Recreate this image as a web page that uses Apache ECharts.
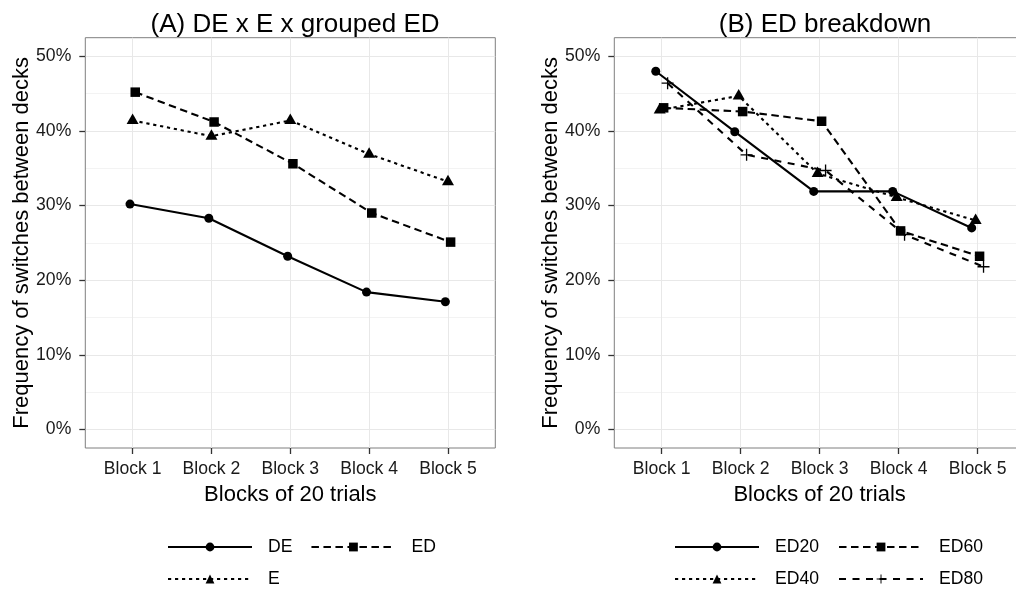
<!DOCTYPE html>
<html>
<head>
<meta charset="utf-8">
<script src="https://cdn.jsdelivr.net/npm/echarts@6/dist/echarts.min.js"></script>
<style>
  html, body { margin: 0; padding: 0; background: #fff; }
  #chart { width: 1016px; height: 591px; }
</style>
</head>
<body>
<div id="chart"></div>
<script>
// Block labels on the x axis and the percentage ticks on the y axis
const blocks = ['Block 1', 'Block 2', 'Block 3', 'Block 4', 'Block 5'];
const yTicks = [0, 10, 20, 30, 40, 50];
const yMinor = [5, 15, 25, 35, 45];

// Panel A: switch frequency (%) per block, DE / E / grouped ED
const groupsA = ['DE', 'E', 'ED'];
const valuesDE = [30.2, 28.3, 23.2, 18.4, 17.1];
const valuesE = [41.4, 39.3, 41.4, 36.9, 33.2];
const valuesED = [45.2, 41.2, 35.6, 29.0, 25.1];

// Panel B: the ED conditions broken down
const groupsB = ['ED20', 'ED40', 'ED60', 'ED80'];
const valuesED20 = [48.0, 39.9, 31.9, 31.9, 27.0];
const valuesED40 = [42.8, 44.7, 34.3, 31.1, 28.0];
const valuesED60 = [43.1, 42.6, 41.3, 26.6, 23.2];
const valuesED80 = [46.4, 36.8, 34.7, 26.1, 21.8];

const FONT = '"Liberation Sans", Arial, Helvetica, sans-serif';
const PLUS = 'path://M4.45,0H5.55V4.45H10V5.55H5.55V10H4.45V5.55H0V4.45H4.45Z';

// Marker and line pattern for each group
const looks = {
  DE:   { symbol: 'circle', size: 9, dash: 'solid' },
  E:    { symbol: 'triangle', size: [12, 10.5], dash: [3.2, 3.8], offset: [0, -1.7] },
  ED:   { symbol: 'rect', size: 9.5, dash: [7.5, 4.5] },
  ED20: { symbol: 'circle', size: 9, dash: 'solid' },
  ED40: { symbol: 'triangle', size: [12, 10.5], dash: [3.2, 3.8], offset: [0, -1.7] },
  ED60: { symbol: 'rect', size: 9.5, dash: [7.5, 4.5] },
  ED80: { symbol: PLUS, size: 12, dash: [7, 6.5] }
};

// Series dodged sideways around each block, as a grouped dot plot would
function lineSeries(name, values, idx, nGroups, dodgeWidth, axisIdx) {
  const shift = (idx - (nGroups - 1) / 2) * dodgeWidth / nGroups;
  const look = looks[name];
  return {
    type: 'line',
    name: name,
    xAxisIndex: axisIdx,
    yAxisIndex: axisIdx,
    data: values.map((v, i) => [i + 1 + shift, v]),
    symbol: look.symbol,
    symbolSize: look.size,
    symbolOffset: look.offset || [0, 0],
    symbolKeepAspect: false,
    showSymbol: true,
    showAllSymbol: true,
    clip: false,
    lineStyle: { color: '#000', width: 2.1, type: look.dash },
    itemStyle: { color: '#000', borderWidth: 0 },
    emphasis: { disabled: true },
    z: 3
  };
}

// Faint minor grid lines half way between the labelled ticks, kept under everything
function minorGrid(axisIdx) {
  return {
    type: 'line',
    xAxisIndex: axisIdx,
    yAxisIndex: axisIdx,
    data: [],
    silent: true,
    z: -1,
    markLine: {
      z: -1,
      silent: true,
      symbol: 'none',
      animation: false,
      label: { show: false },
      lineStyle: { color: '#f3f3f3', width: 1, type: 'solid' },
      emphasis: { disabled: true },
      data: yMinor.map(v => ({ yAxis: v }))
    }
  };
}

function xAxisFor(gridIdx) {
  return {
    type: 'value',
    gridIndex: gridIdx,
    min: 0.4,
    max: 5.6,
    name: 'Blocks of 20 trials',
    nameLocation: 'middle',
    nameGap: 36,
    nameMoveOverlap: false,
    nameTextStyle: { fontSize: 22, color: '#000', fontFamily: FONT },
    axisLine: { show: false, onZero: false },
    axisTick: { show: true, length: 6, customValues: [1, 2, 3, 4, 5],
                lineStyle: { color: '#333', width: 1.3 } },
    axisLabel: { show: true, margin: 12, fontSize: 17.6, color: '#1a1a1a', fontFamily: FONT,
                 customValues: [1, 2, 3, 4, 5],
                 formatter: v => blocks[Math.round(v) - 1] },
    splitLine: { show: true, lineStyle: { color: '#e8e8e8', width: 1 } },
    minorSplitLine: { show: false }
  };
}

function yAxisFor(gridIdx) {
  return {
    type: 'value',
    gridIndex: gridIdx,
    min: -2.5,
    max: 52.5,
    name: 'Frequency of switches between decks',
    nameLocation: 'middle',
    nameGap: 52,
    nameMoveOverlap: false,
    nameTextStyle: { fontSize: 22, color: '#000', fontFamily: FONT },
    axisLine: { show: false, onZero: false },
    axisTick: { show: true, length: 6, customValues: yTicks,
                lineStyle: { color: '#333', width: 1.3 } },
    axisLabel: { show: true, margin: 14, fontSize: 17.6, color: '#1a1a1a', fontFamily: FONT,
                 customValues: yTicks, formatter: v => Math.round(v) + '%' },
    splitLine: { show: true, lineStyle: { color: '#e8e8e8', width: 1 } }
  };
}

// One legend per row, two columns each
function legendRow(names, left, top, gap) {
  return {
    data: names,
    left: left,
    top: top,
    orient: 'horizontal',
    padding: 0,
    itemWidth: 84,
    itemHeight: 11,
    itemGap: gap,
    selectedMode: false,
    textStyle: { fontSize: 17.6, color: '#000', fontFamily: FONT, padding: [0, 0, 0, 11] }
  };
}

const chart = echarts.init(document.getElementById('chart'), null, { renderer: 'canvas' });

chart.setOption({
  animation: false,
  backgroundColor: '#fff',
  textStyle: { fontFamily: FONT },
  title: [
    { text: '(A) DE x E x grouped ED', left: 290, top: 7, textAlign: 'center',
      textStyle: { fontSize: 26, fontWeight: 'normal', color: '#000', fontFamily: FONT } },
    { text: '(B) ED breakdown', left: 820, top: 7, textAlign: 'center',
      textStyle: { fontSize: 26, fontWeight: 'normal', color: '#000', fontFamily: FONT } }
  ],
  grid: [
    { left: 85.3, top: 37.7, width: 410, height: 410.3, show: true,
      borderColor: '#7f7f7f', borderWidth: 1, outerBoundsMode: 'none', containLabel: false },
    { left: 614.3, top: 37.7, width: 410.7, height: 410.3, show: true,
      borderColor: '#7f7f7f', borderWidth: 1, outerBoundsMode: 'none', containLabel: false }
  ],
  xAxis: [xAxisFor(0), xAxisFor(1)],
  yAxis: [yAxisFor(0), yAxisFor(1)],
  legend: [
    legendRow(['DE', 'ED'], 167, 538, 18),
    legendRow(['E'], 167, 570, 18),
    legendRow(['ED20', 'ED60'], 674, 538, 19),
    legendRow(['ED40', 'ED80'], 674, 570, 19)
  ],
  tooltip: { show: false },
  series: [
    minorGrid(0),
    minorGrid(1),
    lineSeries('DE', valuesDE, 0, groupsA.length, 0.1, 0),
    lineSeries('E', valuesE, 1, groupsA.length, 0.1, 0),
    lineSeries('ED', valuesED, 2, groupsA.length, 0.1, 0),
    lineSeries('ED20', valuesED20, 0, groupsB.length, 0.2, 1),
    lineSeries('ED40', valuesED40, 1, groupsB.length, 0.2, 1),
    lineSeries('ED60', valuesED60, 2, groupsB.length, 0.2, 1),
    lineSeries('ED80', valuesED80, 3, groupsB.length, 0.2, 1)
  ]
});
</script>
</body>
</html>
